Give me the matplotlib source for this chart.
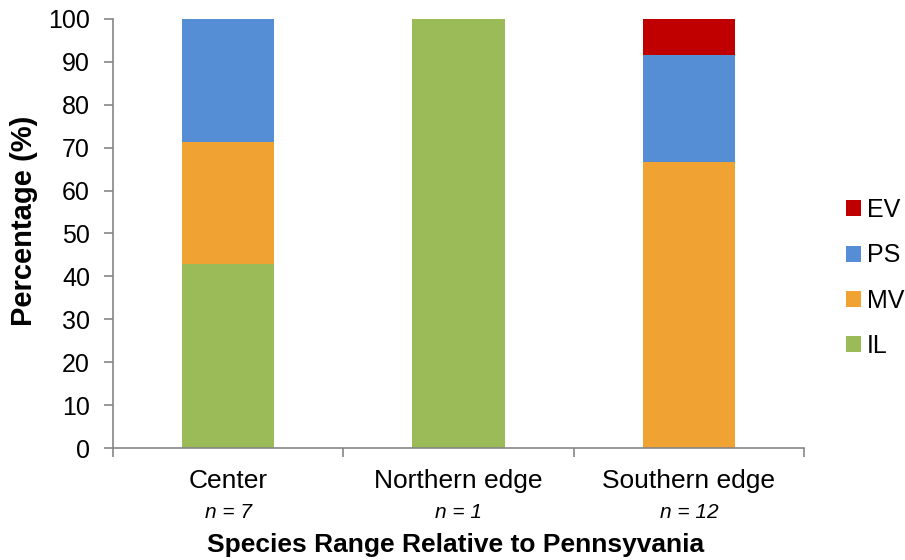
import matplotlib
matplotlib.use("Agg")
import matplotlib.pyplot as plt
from matplotlib.transforms import blended_transform_factory
import numpy as np

plt.rcParams['font.family'] = ['Liberation Sans', 'DejaVu Sans']

categories = ["Center", "Northern edge", "Southern edge"]
sample_sizes = [7, 1, 12]
series_names = ["IL", "MV", "PS", "EV"]
IL = [42.86, 100.0, 0.0]
MV = [28.57, 0.0, 66.67]
PS = [28.57, 0.0, 25.0]
EV = [0.0, 0.0, 8.33]
colors = {"IL": "#9BBB59", "MV": "#F0A232", "PS": "#558ED5", "EV": "#C00000"}
yticks = list(range(0, 101, 10))

fig = plt.figure(figsize=(9.05, 5.6), dpi=100)
ax = fig.add_axes([113 / 905, 112 / 560, (804 - 113) / 905, (448 - 19) / 560])

x = np.arange(len(categories))
bottom = np.zeros(len(categories))
handles = {}
for name, vals in zip(series_names, [IL, MV, PS, EV]):
    vals = np.array(vals)
    h = ax.bar(x, vals, width=0.4, bottom=bottom, color=colors[name], label=name)
    handles[name] = h
    bottom += vals

ax.set_xlim(-0.5, len(categories) - 0.5)
ax.set_ylim(0, 100)
ax.set_yticks(yticks)
ax.set_yticklabels([str(t) for t in yticks], fontsize=18)

# category names centred under bars, tick marks between categories
ax.set_xticks(x)
ax.set_xticklabels(categories, fontsize=19)
ax.tick_params(axis='x', length=0, pad=15)
ax.set_xticks(np.arange(-0.5, len(categories)), minor=True)
ax.tick_params(axis='x', which='minor', length=6.5, width=1.2, color='#868686')
ax.tick_params(axis='y', length=6.5, width=1.2, color='#868686', pad=10)

for s in ['top', 'right']:
    ax.spines[s].set_visible(False)
for s in ['left', 'bottom']:
    ax.spines[s].set_color('#868686')
    ax.spines[s].set_linewidth(1.2)

trans = blended_transform_factory(ax.transData, fig.transFigure)
for xi, n in zip(x, sample_sizes):
    ax.text(xi, (560 - 513) / 560, f"n = {n}", transform=trans, ha='center', va='center',
            fontsize=15, style='italic')

fig.text(456 / 905, (560 - 545) / 560, "Species Range Relative to Pennsyvania",
         ha='center', va='center', fontsize=19, fontweight='bold')
fig.text(24 / 905, (560 - 221) / 560, "Percentage (%)", rotation=90, ha='center', va='center',
         fontsize=21, fontweight='bold')

order = ["EV", "PS", "MV", "IL"]
fig.legend([handles[k] for k in order], order, loc='center left',
           bbox_to_anchor=(823 / 905, (560 - 278) / 560), frameon=False, fontsize=18,
           handlelength=0.6, handleheight=0.6, handletextpad=0.25, labelspacing=0.85)

fig.savefig("out.png", dpi=100)
